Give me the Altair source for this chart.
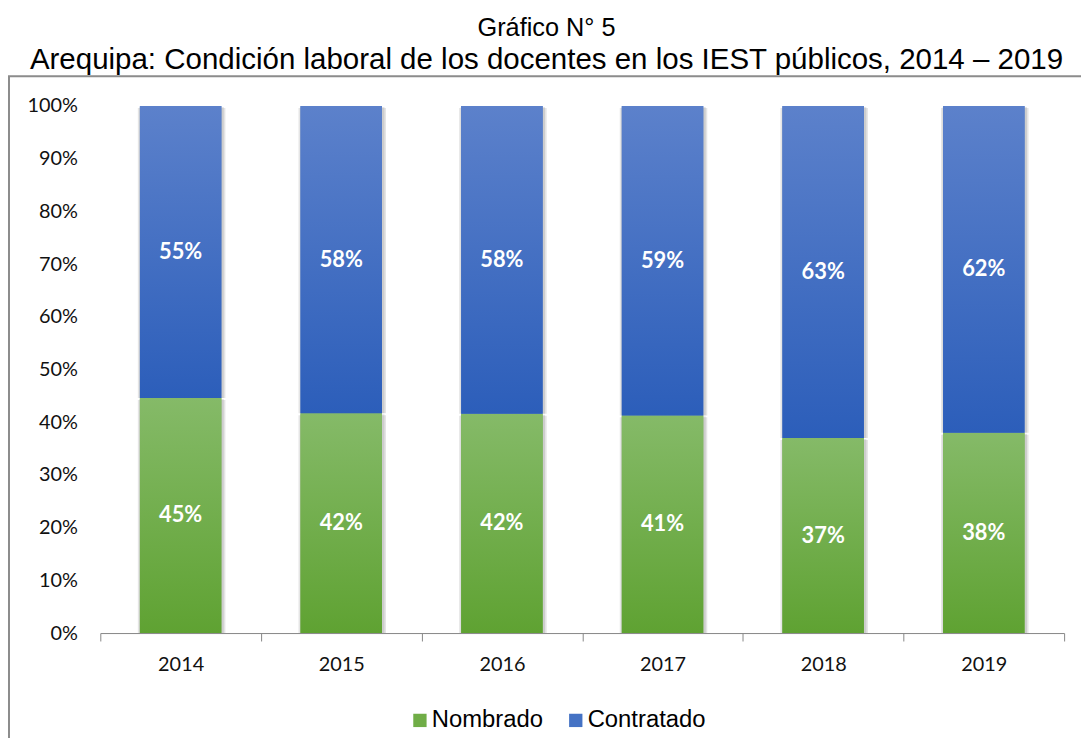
import altair as alt
import pandas as pd

years = ["2014", "2015", "2016", "2017", "2018", "2019"]
nombrado = [44.6, 41.7, 41.6, 41.3, 37.0, 38.0]
contratado = [55.4, 58.3, 58.4, 58.7, 63.0, 62.0]
series = ["Nombrado", "Contratado"]
y_ticks = [0, 10, 20, 30, 40, 50, 60, 70, 80, 90, 100]
title_line1 = "Gráfico N° 5"
title_line2 = "Arequipa: Condición laboral de los docentes en los IEST públicos, 2014 – 2019"

rows = []
for i, yr in enumerate(years):
    rows.append({"year": yr, "series": "Nombrado", "ord": 0, "value": nombrado[i]})
    rows.append({"year": yr, "series": "Contratado", "ord": 1, "value": contratado[i]})
df = pd.DataFrame(rows)

base = alt.Chart(df).transform_stack(
    stack="value", groupby=["year"], as_=["y0", "y1"],
    sort=[alt.SortField(field="ord", order="ascending")]
).transform_calculate(
    mid="(datum.y0 + datum.y1) / 2",
    label="format(datum.value, '.0f') + '%'"
)

x_enc = alt.X("year:N", title=None,
              scale=alt.Scale(paddingInner=0, paddingOuter=0),
              axis=alt.Axis(labelAngle=0, tickBand="extent", tickSize=8,
                            domainColor="#868686", tickColor="#868686",
                            labelFont="Lato", labelFontSize=20, labelColor="#111",
                            labelPadding=14, grid=False))
y_enc = alt.Y("y1:Q", title=None,
              scale=alt.Scale(domain=[0, 100], nice=False),
              axis=alt.Axis(values=y_ticks, labelExpr="datum.value + '%'",
                            grid=False, domain=False, ticks=False,
                            labelFont="Lato", labelFontSize=20, labelColor="#111",
                            labelPadding=23))

bw = alt.RelativeBandSize(0.507)

shadow1 = base.mark_bar(color="#000000", opacity=0.10, width=alt.RelativeBandSize(0.545),
                        yOffset=2, xOffset=1).encode(x=x_enc, y=y_enc, y2="y0:Q")
shadow2 = base.mark_bar(color="#000000", opacity=0.10, width=alt.RelativeBandSize(0.525),
                        yOffset=1, xOffset=1).encode(x=x_enc, y=y_enc, y2="y0:Q")

solid = base.mark_bar(width=bw).encode(
    x=x_enc, y=y_enc, y2="y0:Q",
    color=alt.Color("series:N",
                    scale=alt.Scale(domain=series, range=["#70ad47", "#4472c4"]),
                    legend=alt.Legend(orient="none", legendX=310, legendY=607,
                                      direction="horizontal", title=None,
                                      symbolType="square", symbolSize=180,
                                      symbolStrokeWidth=0,
                                      labelFont="Liberation Sans", labelFontSize=24,
                                      labelColor="#000", columnPadding=20,
                                      labelOffset=0)),
)

green_grad = alt.Gradient(gradient="linear", x1=0, y1=0, x2=0, y2=1,
                          stops=[alt.GradientStop(color="#85ba68", offset=0),
                                 alt.GradientStop(color="#5fa232", offset=1)])
blue_grad = alt.Gradient(gradient="linear", x1=0, y1=0, x2=0, y2=1,
                         stops=[alt.GradientStop(color="#5c81cb", offset=0),
                                alt.GradientStop(color="#2c5eba", offset=1)])

green_bars = base.transform_filter("datum.series == 'Nombrado'").mark_bar(
    width=bw, fill=green_grad).encode(x=x_enc, y=y_enc, y2="y0:Q")
blue_bars = base.transform_filter("datum.series == 'Contratado'").mark_bar(
    width=bw, fill=blue_grad).encode(x=x_enc, y=y_enc, y2="y0:Q")

labels = base.mark_text(color="white", font="Lato", fontWeight="bold",
                        fontSize=22, baseline="middle", align="center").encode(
    x=x_enc, y=alt.Y("mid:Q", scale=alt.Scale(domain=[0, 100], nice=False)),
    text="label:N")

frame = alt.Chart(pd.DataFrame({"a": [0]})).mark_rect(
    fillOpacity=0, stroke="#8c8c8c", strokeWidth=2).encode(
    x=alt.value(-92), x2=alt.value(1000), y=alt.value(-30), y2=alt.value(640))

chart = alt.layer(frame, shadow1, shadow2, solid, green_bars, blue_bars, labels).properties(
    width=971, height=531,
    padding={"left": 93, "top": 96, "right": 17, "bottom": 103},
    autosize=alt.AutoSizeParams(type="none"),
    title=alt.TitleParams(text=title_line1, subtitle=title_line2,
                          font="Liberation Sans", fontSize=25.5,
                          fontWeight="normal", color="#000",
                          subtitleFont="Liberation Sans", subtitleFontSize=29.7,
                          subtitleColor="#000", subtitlePadding=4,
                          subtitleLineHeight=32,
                          anchor="middle", frame="group", offset=1, dx=-36),
).configure_view(stroke=None)

chart.save("out.html", embed_options={"renderer": "svg", "actions": False})
